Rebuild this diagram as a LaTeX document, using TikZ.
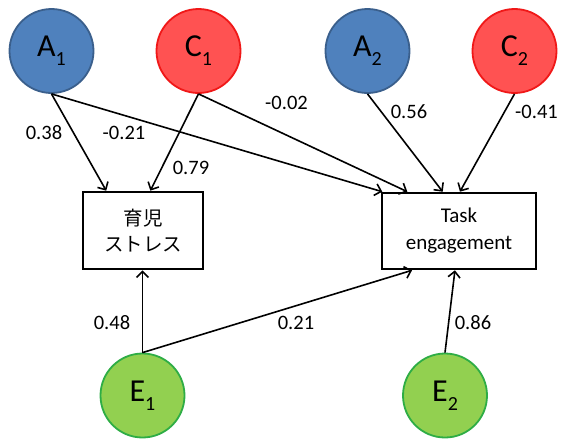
\documentclass[tikz,border=0pt]{standalone}
\usepackage{fontspec}
\setmainfont{Carlito}
\newfontfamily\jp{Noto Sans CJK JP}
\usetikzlibrary{arrows.meta,calc}
\definecolor{afill}{HTML}{4F81BD}
\definecolor{aline}{HTML}{3A5F8C}
\definecolor{cfill}{HTML}{FF5252}
\definecolor{cline}{HTML}{F01818}
\definecolor{efill}{HTML}{92D050}
\definecolor{eline}{HTML}{2EAD45}
\newcommand{\lat}[2]{{\fontsize{32}{32}\selectfont #1\raisebox{-9pt}{\fontsize{20}{20}\selectfont #2}}}
\begin{document}
\begin{tikzpicture}[x=1pt,y=-1pt,
  latent/.style={circle,minimum size=84pt,inner sep=0pt,line width=1.8pt},
  aa/.style={latent,fill=afill,draw=aline},
  cc/.style={latent,fill=cfill,draw=cline},
  ee/.style={latent,fill=efill,draw=eline},
  obs/.style={draw,line width=2.6pt,fill=white,align=center,inner sep=0pt},
  path/.style={line width=1.6pt,-{Straight Barb[length=6pt,width=12pt]}},
  lab/.style={font=\fontsize{20.5}{20.5}\selectfont,inner sep=0pt}]
\useasboundingbox[fill=white] (0,0) rectangle (561,439);
\node[aa] (A1) at (51.5,51) {\lat{A}{1}};
\node[cc] (C1) at (198.5,51) {\lat{C}{1}};
\node[aa] (A2) at (367.5,51) {\lat{A}{2}};
\node[cc] (C2) at (514.5,51) {\lat{C}{2}};
\node[ee] (E1) at (142.5,395.5) {\lat{E}{1}};
\node[ee] (E2) at (445,395.5) {\lat{E}{2}};
\node[obs,minimum width=120pt,minimum height=77pt,font=\jp\fontsize{19.5}{26}\selectfont] (B1) at (143,230.5)
  {育児\\ストレス};
\node[obs,minimum width=154pt,minimum height=76pt,font=\fontsize{21}{27}\selectfont] (B2) at (459,231)
  {Task\\engagement};
\draw[path] (A1.south) -- ($(B1.north west)!0.2!(B1.north east)$);
\draw[path] (A1.south) -- ($(B2.north west)!0.01!(B2.north east)$);
\draw[path] (C1.south) -- ($(B1.north west)!0.56!(B1.north east)$);
\draw[path] (C1.south) -- ($(B2.north west)!0.17!(B2.north east)$);
\draw[path] (A2.south) -- ($(B2.north west)!0.396!(B2.north east)$);
\draw[path] (C2.south) -- ($(B2.north west)!0.506!(B2.north east)$);
\draw[path] (E1.north) -- (B1.south -| E1.north);
\draw[path] (E1.north) -- ($(B2.south west)!0.2!(B2.south east)$);
\draw[path] (E2.north) -- ($(B2.south west)!0.474!(B2.south east)$);
\node[lab] (l1) at (44,133) {0.38};
\node[lab] (l2) at (124,133) {-0.21};
\node[lab] (l3) at (191,168) {0.79};
\node[lab] (l4) at (286.5,103) {-0.02};
\node[lab] (l5) at (409,112) {0.56};
\node[lab] (l6) at (536.5,112) {-0.41};
\node[lab] (l7) at (112,323) {0.48};
\node[lab] (l8) at (296,323) {0.21};
\node[lab] (l9) at (473,323) {0.86};
\end{tikzpicture}
\end{document}
